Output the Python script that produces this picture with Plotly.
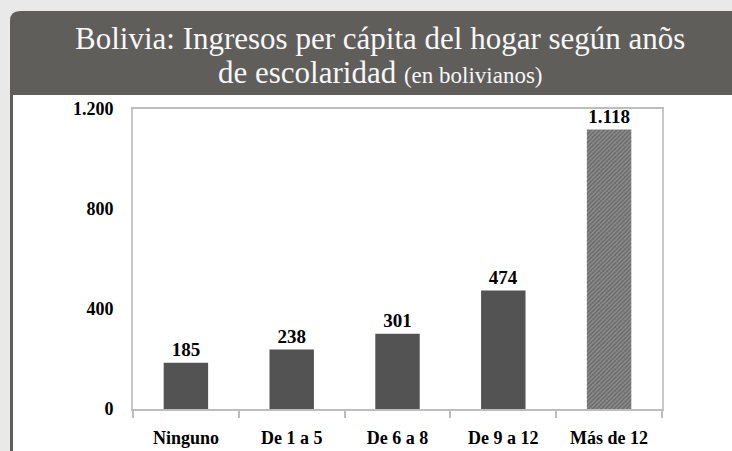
import plotly.graph_objects as go

# ---- data ----
categories = ["Ninguno", "De 1 a 5", "De 6 a 8", "De 9 a 12", "Más de 12"]
values = [185, 238, 301, 474, 1118]
value_labels = ["185", "238", "301", "474", "1.118"]
ytick_vals = [0, 400, 800, 1200]
ytick_text = ["0", "400", "800", "1.200"]
title_line1 = "Bolivia: Ingresos per cápita del hogar según anõs"
title_line2 = "de escolaridad"
title_sub = "(en bolivianos)"

# ---- figure geometry (pixels) ----
W, H = 732, 451
L, R, T, B = 133, 662, 109, 409


def px(x):
    return (x - L) / (R - L)


def py(y):
    return (B - y) / (B - T)


card_dark = "#5f5e5b"
r = 10
x0, y0 = 10, 11
card_path = (
    f"M {px(x0)},{py(H + 5)} L {px(x0)},{py(y0 + r)} "
    f"Q {px(x0)},{py(y0)} {px(x0 + r)},{py(y0)} "
    f"L {px(W + 5)},{py(y0)} L {px(W + 5)},{py(H + 5)} Z"
)

shapes = [
    dict(type="path", xref="paper", yref="paper", path=card_path,
         fillcolor=card_dark, line=dict(width=0), layer="below"),
    dict(type="rect", xref="paper", yref="paper",
         x0=px(13), x1=px(W + 5), y0=py(95), y1=py(H + 5),
         fillcolor="white", line=dict(width=0), layer="below"),
]

colors = ["#535353"] * 4 + ["#909090"]
shapes_pat = [""] * 4 + ["/"]

serif = "Liberation Serif, Times New Roman, serif"

fig = go.Figure(
    go.Bar(
        x=categories,
        y=values,
        width=0.42,
        text=value_labels,
        textposition="outside",
        cliponaxis=False,
        textfont=dict(family=serif, size=19, color="black", weight="bold"),
        marker=dict(
            color=colors,
            line=dict(width=0),
            pattern=dict(shape=shapes_pat, fgcolor="#222222", size=3, solidity=0.55),
        ),
        hoverinfo="skip",
    )
)

fig.update_layout(
    width=W,
    height=H,
    margin=dict(l=L, r=W - R, t=T, b=H - B, autoexpand=False),
    paper_bgcolor="#e9e9e9",
    plot_bgcolor="white",
    showlegend=False,
    shapes=shapes,
    annotations=[
        dict(
            xref="paper", yref="paper", x=px(380), y=py(38),
            text=title_line1, showarrow=False, xanchor="center", yanchor="middle",
            font=dict(family=serif, size=31, color="#f7f7f7"),
        ),
        dict(
            xref="paper", yref="paper", x=px(380), y=py(73),
            text=f"{title_line2} <span style='font-size:23px'>{title_sub}</span>",
            showarrow=False, xanchor="center", yanchor="middle",
            font=dict(family=serif, size=31, color="#f7f7f7"),
        ),
    ],
)

fig.update_xaxes(
    type="category",
    range=[-0.5, 4.5],
    automargin=False,
    showline=True, linecolor="#bdbdbd", linewidth=2, mirror=True,
    ticks="outside", tickson="boundaries", ticklen=7, tickcolor="#bdbdbd", tickwidth=2,
    tickfont=dict(family=serif, size=18, color="black", weight="bold"),
    ticklabelstandoff=11,
    showgrid=False,
)
fig.update_yaxes(
    range=[0, 1200],
    automargin=False,
    tickvals=ytick_vals, ticktext=ytick_text,
    showline=True, linecolor="#c8c8c8", linewidth=2, mirror=True,
    showgrid=False, zeroline=False,
    ticks="", ticklabelstandoff=14,
    tickfont=dict(family=serif, size=18, color="black", weight="bold"),
)

fig.write_html(
    "out.html",
    config={"displayModeBar": False},
    post_script="document.body.style.margin='0';document.body.style.overflow='hidden';",
)
